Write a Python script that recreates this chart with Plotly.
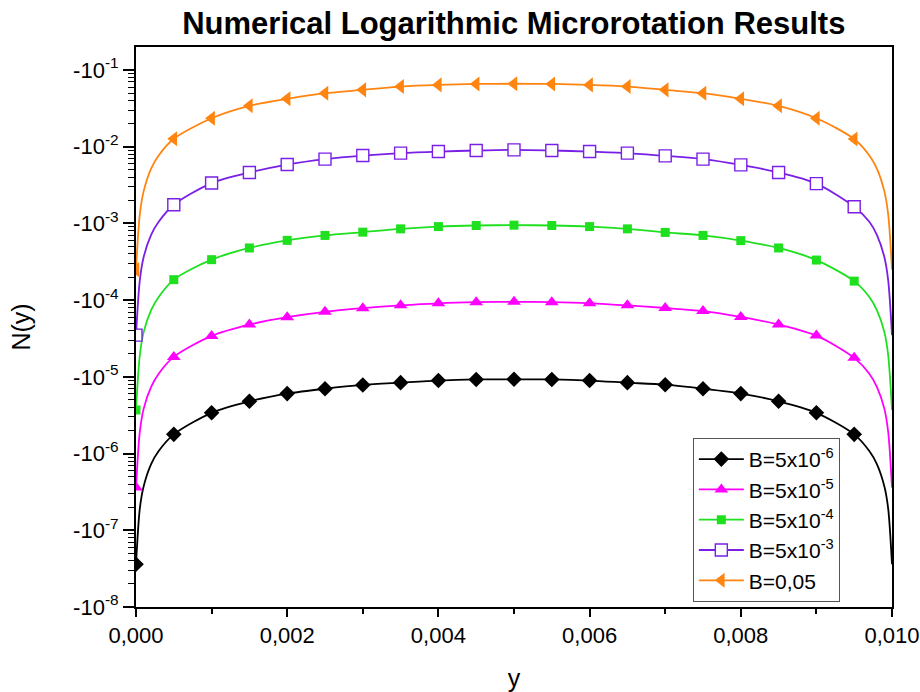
import plotly.graph_objects as go

# Wall-normal coordinate of the sampled profiles (denser close to both walls)
y_coord = [0.0, 0.00005, 0.0001, 0.0002, 0.0003,
           0.0005, 0.0010, 0.0015, 0.0020, 0.0025, 0.0030, 0.0035, 0.0040, 0.0045,
           0.0050, 0.0055, 0.0060, 0.0065, 0.0070, 0.0075, 0.0080, 0.0085, 0.0090,
           0.0095,
           0.0097, 0.0098, 0.0099, 0.00995, 0.0100]

# Magnitude of the (negative) microrotation N(y) for each B
n_b5e6 = [3.6e-8, 1.9e-7, 3.7e-7, 7.3e-7, 1.08e-6,
          1.78e-6, 3.4e-6, 4.8e-6, 6.05e-6, 7.0e-6, 7.85e-6, 8.4e-6, 8.95e-6, 9.25e-6,
          9.3e-6, 9.25e-6, 8.95e-6, 8.4e-6, 7.9e-6, 7.0e-6, 6.05e-6, 4.8e-6, 3.4e-6,
          1.78e-6,
          1.08e-6, 7.3e-7, 3.7e-7, 1.9e-7, 3.6e-8]
n_b5e5 = [3.6e-7, 1.9e-6, 3.8e-6, 7.4e-6, 1.1e-5,
          1.82e-5, 3.42e-5, 4.8e-5, 6.0e-5, 7.05e-5, 7.85e-5, 8.55e-5, 9.1e-5, 9.4e-5,
          9.5e-5, 9.4e-5, 9.1e-5, 8.55e-5, 7.9e-5, 7.2e-5, 6.04e-5, 4.8e-5, 3.45e-5,
          1.77e-5,
          1.1e-5, 7.4e-6, 3.8e-6, 1.9e-6, 3.6e-7]
n_b5e4 = [3.7e-6, 1.9e-5, 3.8e-5, 7.4e-5, 1.1e-4,
          1.85e-4, 3.37e-4, 4.79e-4, 6.02e-4, 6.98e-4, 7.7e-4, 8.5e-4, 9.1e-4, 9.4e-4,
          9.5e-4, 9.4e-4, 9.1e-4, 8.5e-4, 7.64e-4, 6.98e-4, 5.97e-4, 4.79e-4, 3.33e-4,
          1.77e-4,
          1.1e-4, 7.4e-5, 3.8e-5, 1.9e-5, 3.7e-6]
n_b5e3 = [3.5e-5, 1.8e-4, 3.6e-4, 7.1e-4, 1.05e-3,
          1.75e-3, 3.36e-3, 4.62e-3, 5.86e-3, 6.9e-3, 7.67e-3, 8.26e-3, 8.65e-3, 8.93e-3,
          9.1e-3, 8.93e-3, 8.65e-3, 8.26e-3, 7.6e-3, 6.9e-3, 5.8e-3, 4.62e-3, 3.3e-3,
          1.65e-3,
          1.05e-3, 7.1e-4, 3.6e-4, 1.8e-4, 3.5e-5]
n_b005 = [2.5e-4, 1.3e-3, 2.6e-3, 5.2e-3, 7.7e-3,
          0.0127, 0.0235, 0.0341, 0.0421, 0.0499, 0.0551, 0.0608, 0.0640, 0.0658,
          0.0662, 0.0658, 0.0640, 0.0608, 0.0551, 0.0499, 0.0421, 0.0341, 0.0235,
          0.0126,
          7.7e-3, 5.2e-3, 2.6e-3, 1.3e-3, 2.5e-4]

legend_names = ["B=5x10<sup>-6</sup>", "B=5x10<sup>-5</sup>", "B=5x10<sup>-4</sup>",
                "B=5x10<sup>-3</sup>", "B=0,05"]

# Decade ticks of the log axis, labelled with the sign of N
decades = [1e-8, 1e-7, 1e-6, 1e-5, 1e-4, 1e-3, 1e-2, 1e-1]
decade_labels = ["-10<sup>-8</sup>", "-10<sup>-7</sup>", "-10<sup>-6</sup>",
                 "-10<sup>-5</sup>", "-10<sup>-4</sup>", "-10<sup>-3</sup>",
                 "-10<sup>-2</sup>", "-10<sup>-1</sup>"]

series = [n_b5e6, n_b5e5, n_b5e4, n_b5e3, n_b005]
colors = ["#000000", "#ff00ff", "#1ee01e", "#7a1fe6", "#ff8410"]
markers = [
    dict(symbol="diamond", size=12, color="#000000"),
    dict(symbol="triangle-up", size=12, color="#ff00ff"),
    dict(symbol="square", size=9, color="#1ee01e"),
    dict(symbol="square", size=12, color="white", line=dict(color="#7a1fe6", width=1.4)),
    dict(symbol="triangle-left", size=13, color="#ff8410"),
]

# markers sit on the regular 0.0005 grid (first sample and every grid point)
marker_idx = [0] + list(range(5, 24))

FONT = "Arial, Liberation Sans, sans-serif"

fig = go.Figure()
for vals, col, mk, name in zip(series, colors, markers, legend_names):
    fig.add_trace(go.Scatter(
        x=y_coord, y=vals, mode="lines",
        line=dict(color=col, width=1.8, shape="spline", smoothing=0.8),
        showlegend=False, hoverinfo="skip"))
    fig.add_trace(go.Scatter(
        x=[y_coord[i] for i in marker_idx], y=[vals[i] for i in marker_idx],
        mode="markers", marker=mk, showlegend=False))
    # legend entry showing line and symbol together
    fig.add_trace(go.Scatter(
        x=[None], y=[None], mode="lines+markers", name=name,
        line=dict(color=col, width=1.8), marker=mk))

fig.update_layout(
    width=920, height=692,
    margin=dict(l=136, r=28, t=47, b=85, autoexpand=False),
    paper_bgcolor="white", plot_bgcolor="white",
    separators=",.",
    font=dict(family=FONT, color="black", size=22),
    title=dict(text="<b>Numerical Logarithmic Microrotation Results</b>",
               x=0.5585, xanchor="center", y=0.966, yanchor="middle",
               font=dict(size=31, family=FONT)),
    legend=dict(x=0.931, xanchor="right", y=0.009, yanchor="bottom",
                bordercolor="#555555", borderwidth=1, bgcolor="white",
                font=dict(size=21, family=FONT), tracegroupgap=0,
                itemwidth=45),
    showlegend=True,
)

fig.update_xaxes(
    range=[0, 0.010], tickmode="linear", tick0=0, dtick=0.002, tickformat=".3f",
    ticks="outside", ticklen=8, tickwidth=1.5, tickcolor="black",
    minor=dict(ticks="outside", ticklen=5, tickwidth=1.5, dtick=0.001, tick0=0,
               tickcolor="black", showgrid=False),
    showline=True, linewidth=2, linecolor="black", mirror=True,
    showgrid=False, zeroline=False, automargin=False,
    tickfont=dict(size=22),
    title=dict(text="y", font=dict(size=25), standoff=22),
)

fig.update_yaxes(
    type="log", range=[-8, -0.70],
    tickmode="array", tickvals=decades, ticktext=decade_labels,
    ticks="outside", ticklen=11, tickwidth=1.5, tickcolor="black",
    minor=dict(ticks="outside", ticklen=6, tickwidth=1.2, dtick="D1",
               tickcolor="black", showgrid=False),
    showline=True, linewidth=2, linecolor="black", mirror=True,
    showgrid=False, zeroline=False, automargin=False,
    tickfont=dict(size=22),
    title=dict(text="N(y)", font=dict(size=25), standoff=35),
)

fig.write_html("out.html")
